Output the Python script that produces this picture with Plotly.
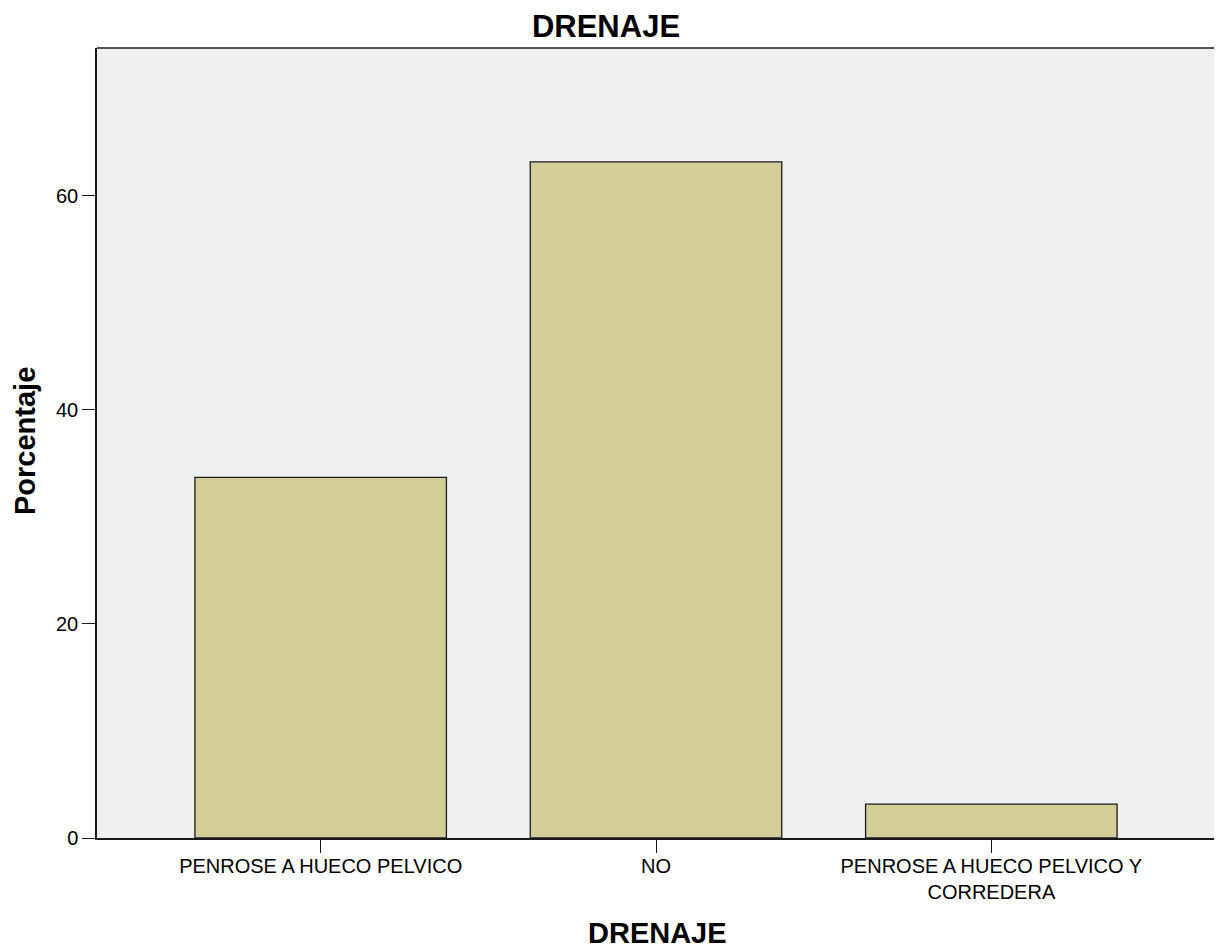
import plotly.graph_objects as go

categories = ["PENROSE A HUECO PELVICO", "NO", "PENROSE A HUECO PELVICO Y<br>CORREDERA"]
percentages = [33.68, 63.16, 3.16]
y_ticks = [0, 20, 40, 60]

FONT = "Liberation Sans, Arial, sans-serif"

# page body offset of 8px is accounted for here
OFF = 8
W, H = 1222 - OFF, 952 - OFF
L, T = 97 - OFF, 48 - OFF
R = W - (1215 - OFF)
B = H - (838 - OFF)
PW, PH = W - L - R, H - T - B

fig = go.Figure(
    go.Bar(
        x=list(range(len(categories))),
        y=percentages,
        width=0.75,
        marker=dict(color="#D3CD98", line=dict(color="#1a1a1a", width=1.3)),
        hoverinfo="y",
    )
)

fig.update_layout(
    width=W,
    height=H,
    paper_bgcolor="white",
    plot_bgcolor="#F0F0F0",
    margin=dict(l=L, r=R, t=T, b=B, autoexpand=False),
    showlegend=False,
    title=dict(
        text="<b>DRENAJE</b>",
        x=(606 - OFF) / W,
        xanchor="center",
        xref="container",
        y=1 - (26 - OFF) / H,
        yanchor="middle",
        font=dict(family=FONT, size=31, color="black"),
    ),
    font=dict(family=FONT, color="black"),
)

fig.update_xaxes(
    automargin=False,
    range=[-0.667, 2.667],
    tickmode="array",
    tickvals=list(range(len(categories))),
    ticktext=categories,
    ticks="outside",
    ticklen=13,
    tickwidth=1.3,
    tickcolor="#1a1a1a",
    tickfont=dict(family=FONT, size=20, color="black"),
    ticklabelstandoff=-4,
    showline=True,
    linecolor="#1a1a1a",
    linewidth=1.5,
    showgrid=False,
    zeroline=False,
)

fig.update_yaxes(
    automargin=False,
    range=[0, 73.8],
    tickmode="array",
    tickvals=y_ticks,
    ticks="outside",
    ticklen=13,
    tickwidth=1.3,
    tickcolor="#1a1a1a",
    tickfont=dict(family=FONT, size=20, color="black"),
    showline=True,
    linecolor="#1a1a1a",
    linewidth=1.5,
    showgrid=False,
    zeroline=False,
)

# axis titles
fig.add_annotation(text="<b>DRENAJE</b>", xref="paper", yref="paper",
                   x=(657 - 97) / PW, y=-(933 - 838) / PH,
                   xanchor="center", yanchor="middle", showarrow=False,
                   font=dict(family=FONT, size=29, color="black"))
fig.add_annotation(text="<b>Porcentaje</b>", xref="paper", yref="paper",
                   x=(25 - 97) / PW, y=(838 - 441) / PH,
                   xanchor="center", yanchor="middle", showarrow=False, textangle=-90,
                   font=dict(family=FONT, size=29, color="black"))

# top and right frame in gray
fig.add_shape(type="line", xref="paper", yref="paper", x0=0, x1=1, y0=1, y1=1,
              line=dict(color="#555555", width=2))
fig.add_shape(type="line", xref="paper", yref="paper", x0=1, x1=1, y0=0, y1=1,
              line=dict(color="#555555", width=2))

fig.write_html("out.html")
